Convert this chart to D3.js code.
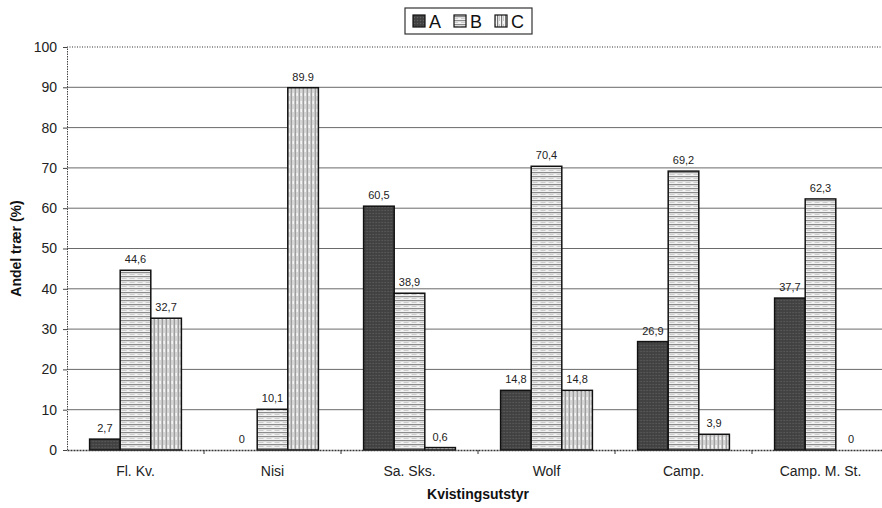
<!DOCTYPE html>
<html>
<head>
<meta charset="utf-8">
<script src="https://cdn.jsdelivr.net/npm/d3@7"></script>
<style>
  html, body { margin: 0; padding: 0; background: #fff; }
  svg { display: block; font-family: "Liberation Sans", Arial, sans-serif; }
</style>
</head>
<body>
<svg id="chart" width="882" height="508"></svg>
<script>
// Share of trees per delimbing equipment, by class
const categories = ["Fl. Kv.", "Nisi", "Sa. Sks.", "Wolf", "Camp.", "Camp. M. St."];
const seriesNames = ["A", "B", "C"];
const valuesA = [2.7, 0, 60.5, 14.8, 26.9, 37.7];
const valuesB = [44.6, 10.1, 38.9, 70.4, 69.2, 62.3];
const valuesC = [32.7, 89.9, 0.6, 14.8, 3.9, 0];
const labelsA = ["2,7", "0", "60,5", "14,8", "26,9", "37,7"];
const labelsB = ["44,6", "10,1", "38,9", "70,4", "69,2", "62,3"];
const labelsC = ["32,7", "89.9", "0,6", "14,8", "3,9", "0"];
const yTicks = [0, 10, 20, 30, 40, 50, 60, 70, 80, 90, 100];

const seriesValues = [valuesA, valuesB, valuesC];
const seriesLabels = [labelsA, labelsB, labelsC];

const svg = d3.select("#chart");
const plotLeft = 67, plotRight = 889, plotTop = 47, plotBottom = 450;

const x = d3.scaleBand().domain(categories).range([plotLeft, plotRight])
  .paddingInner(0.33).paddingOuter(0.165);
const xs = d3.scaleBand().domain(seriesNames).range([0, x.bandwidth()]);
const y = d3.scaleLinear().domain([0, 100]).range([plotBottom, plotTop]);

// Fill patterns for the three classes
const defs = svg.append("defs");
const pA = defs.append("pattern").attr("id", "patA").attr("patternUnits", "userSpaceOnUse")
  .attr("width", 3).attr("height", 3);
pA.append("rect").attr("width", 3).attr("height", 3).attr("fill", "#454545");
pA.append("rect").attr("width", 1).attr("height", 1).attr("fill", "#626262");
pA.append("rect").attr("x", 1.5).attr("y", 1.5).attr("width", 1).attr("height", 1).attr("fill", "#333");

const pB = defs.append("pattern").attr("id", "patB").attr("patternUnits", "userSpaceOnUse")
  .attr("width", 8).attr("height", 4);
pB.append("rect").attr("width", 8).attr("height", 4).attr("fill", "#f2f2f2");
pB.append("rect").attr("y", 0).attr("width", 8).attr("height", 1.2).attr("fill", "#8a8a8a");
pB.append("rect").attr("y", 2).attr("width", 5).attr("height", 0.8).attr("fill", "#c4c4c4");

const pC = defs.append("pattern").attr("id", "patC").attr("patternUnits", "userSpaceOnUse")
  .attr("width", 4).attr("height", 8);
pC.append("rect").attr("width", 4).attr("height", 8).attr("fill", "#f4f4f4");
pC.append("rect").attr("x", 0).attr("width", 1.2).attr("height", 8).attr("fill", "#777");
pC.append("rect").attr("x", 2).attr("width", 0.8).attr("height", 5).attr("fill", "#bbb");

const fills = { A: "url(#patA)", B: "url(#patB)", C: "url(#patC)" };

// Horizontal gridlines
svg.append("g").selectAll("line")
  .data(yTicks.filter(t => t > 0 && t < 100))
  .join("line")
  .attr("x1", plotLeft).attr("x2", plotRight)
  .attr("y1", d => y(d)).attr("y2", d => y(d))
  .attr("stroke", "#6a6a6a").attr("stroke-width", 1);

// Top border at 100 (dotted)
svg.append("line")
  .attr("x1", plotLeft).attr("x2", plotRight)
  .attr("y1", y(100)).attr("y2", y(100))
  .attr("stroke", "#333").attr("stroke-width", 1.2).attr("stroke-dasharray", "1,1.5");

// Y axis
const yAxis = d3.axisLeft(y).tickValues(yTicks).tickSize(4).tickPadding(6);
const gy = svg.append("g").attr("transform", `translate(${plotLeft},0)`).call(yAxis);
gy.select(".domain").attr("stroke", "#444").attr("stroke-dasharray", "1.5,1");
gy.selectAll(".tick line").attr("stroke", "#444");
gy.selectAll(".tick text").attr("font-size", 14).attr("fill", "#222")
  .attr("font-family", "'Liberation Sans', Arial, sans-serif");

// Bars
const groups = svg.append("g").selectAll("g")
  .data(categories)
  .join("g")
  .attr("transform", d => `translate(${x(d)},0)`);

seriesNames.forEach((s, si) => {
  groups.append("rect")
    .attr("x", xs(s))
    .attr("width", xs.bandwidth())
    .attr("y", (d, i) => y(seriesValues[si][i]))
    .attr("height", (d, i) => y(0) - y(seriesValues[si][i]))
    .attr("fill", fills[s])
    .attr("stroke", (d, i) => seriesValues[si][i] > 0 ? "#111" : "none")
    .attr("stroke-width", 1.5);

  groups.append("text")
    .attr("x", xs(s) + xs.bandwidth() / 2)
    .attr("y", (d, i) => y(seriesValues[si][i]) - 7)
    .attr("text-anchor", "middle")
    .attr("font-size", 11)
    .attr("fill", "#222")
    .text((d, i) => seriesLabels[si][i]);
});

// X axis
const xAxis = d3.axisBottom(x).tickSize(0).tickPadding(16);
const gx = svg.append("g").attr("transform", `translate(0,${plotBottom})`).call(xAxis);
gx.select(".domain").attr("stroke", "#333").attr("stroke-width", 1.4).attr("stroke-dasharray", "2,1");
gx.selectAll(".tick text").attr("font-size", 14).attr("fill", "#222")
  .attr("font-family", "'Liberation Sans', Arial, sans-serif");

// Small ticks between category groups
const step = x.step();
svg.append("g").selectAll("line")
  .data(categories.slice(1))
  .join("line")
  .attr("x1", d => x(d) - (step - x.bandwidth()) / 2)
  .attr("x2", d => x(d) - (step - x.bandwidth()) / 2)
  .attr("y1", plotBottom).attr("y2", plotBottom + 4)
  .attr("stroke", "#333");

// Axis titles
svg.append("text")
  .attr("x", (plotLeft + plotRight) / 2).attr("y", 499)
  .attr("text-anchor", "middle").attr("font-size", 14).attr("font-weight", "bold")
  .attr("fill", "#111")
  .text("Kvistingsutstyr");

svg.append("text")
  .attr("transform", `translate(21,${(plotTop + plotBottom) / 2}) rotate(-90)`)
  .attr("text-anchor", "middle").attr("font-size", 14).attr("font-weight", "bold")
  .attr("fill", "#111")
  .text("Andel trær (%)");

// Legend
const legend = svg.append("g").attr("transform", "translate(405,8)");
legend.append("rect").attr("width", 127).attr("height", 26)
  .attr("fill", "#fff").attr("stroke", "#333").attr("stroke-width", 1.2);
seriesNames.forEach((s, i) => {
  const lx = 8 + i * 41;
  legend.append("rect").attr("x", lx).attr("y", 7).attr("width", 12).attr("height", 12)
    .attr("fill", fills[s]).attr("stroke", "#111").attr("stroke-width", 1.2);
  legend.append("text").attr("x", lx + 16).attr("y", 20)
    .attr("font-size", 18).attr("fill", "#111").text(s);
});
</script>
</body>
</html>
